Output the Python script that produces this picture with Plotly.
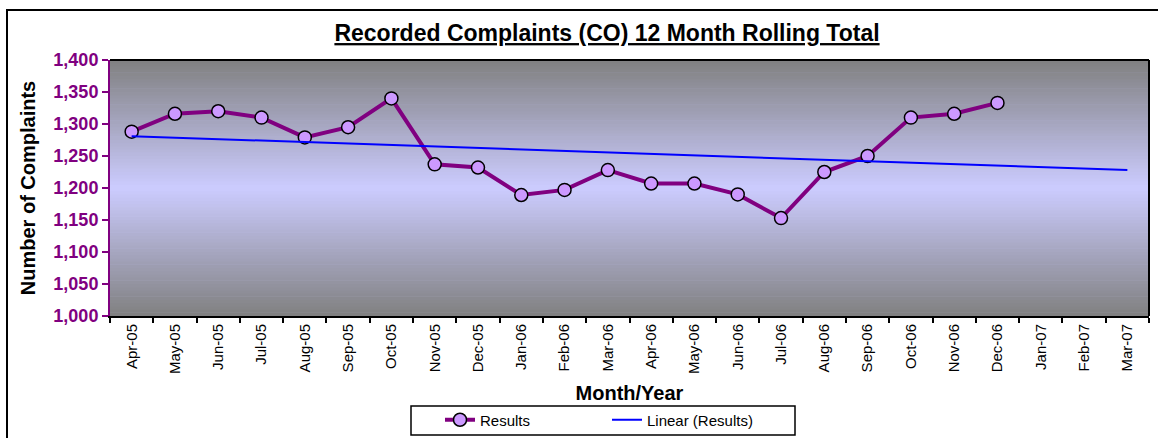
import plotly.graph_objects as go

# data
months = ["Apr-05", "May-05", "Jun-05", "Jul-05", "Aug-05", "Sep-05", "Oct-05", "Nov-05",
          "Dec-05", "Jan-06", "Feb-06", "Mar-06", "Apr-06", "May-06", "Jun-06", "Jul-06",
          "Aug-06", "Sep-06", "Oct-06", "Nov-06", "Dec-06", "Jan-07", "Feb-07", "Mar-07"]
results = [1288, 1316, 1320, 1310, 1279, 1295, 1340, 1237, 1232, 1189, 1197, 1228,
           1207, 1207, 1190, 1153, 1225, 1250, 1310, 1316, 1333]
trend_months = ["Apr-05", "Mar-07"]
trend_values = [1281, 1228]

W, H = 1158, 438
L, R, T, B = 110, 9, 60, 122
PW, PH = W - L - R, H - T - B

def px_x(p):
    return (p - L) / PW

def px_y(p):
    return (H - B - p) / PH

FONT = "Liberation Sans, Arial"

fig = go.Figure()

fig.add_trace(go.Scatter(
    x=months[:len(results)], y=results, mode="lines+markers", name="Results",
    line=dict(color="#800080", width=4),
    marker=dict(symbol="circle", size=13, color="#CC99FF",
                line=dict(color="black", width=1.5)),
))
fig.add_trace(go.Scatter(
    x=trend_months, y=trend_values, mode="lines", name="Linear (Results)",
    line=dict(color="#0000FF", width=2),
))

# gradient plot background: grey -> lavender -> grey
shapes = []
n = 80
top = (128, 128, 128)
mid = (204, 204, 255)
for i in range(n):
    f = (i + 0.5) / n
    t = 1 - abs(f - 0.5) * 2
    c = tuple(int(round(top[k] + (mid[k] - top[k]) * t)) for k in range(3))
    shapes.append(dict(type="rect", xref="x domain", yref="y domain",
                       x0=0, x1=1, y0=i / n, y1=(i + 1) / n + 0.002,
                       fillcolor="rgb(%d,%d,%d)" % c, line=dict(width=0),
                       layer="below"))
# black top / right edges of the plot area
shapes.append(dict(type="line", xref="x domain", yref="y domain", x0=0, x1=1, y0=1, y1=1,
                   line=dict(color="black", width=2)))
shapes.append(dict(type="line", xref="x domain", yref="y domain", x0=1, x1=1, y0=0, y1=1,
                   line=dict(color="black", width=2)))
# outer chart frame
shapes.append(dict(type="rect", xref="paper", yref="paper",
                   x0=px_x(7), x1=px_x(1170), y0=px_y(450), y1=px_y(10),
                   line=dict(color="black", width=2), fillcolor="rgba(0,0,0,0)"))
# legend frame
shapes.append(dict(type="rect", xref="paper", yref="paper",
                   x0=px_x(411), x1=px_x(795), y0=px_y(435), y1=px_y(406),
                   line=dict(color="black", width=1.5), fillcolor="white"))

fig.update_layout(
    width=W, height=H,
    margin=dict(l=L, r=R, t=T, b=B, autoexpand=False),
    paper_bgcolor="white", plot_bgcolor="#CCCCFF",
    font=dict(family=FONT, color="black"),
    shapes=shapes,
    title=dict(text="<b><u>Recorded Complaints (CO) 12 Month Rolling Total</u></b>",
               x=607 / W, xanchor="center", y=1 - 33 / H, yanchor="middle",
               font=dict(size=23, color="black")),
    xaxis=dict(
        type="category", categoryorder="array", categoryarray=months,
        tickmode="array", tickvals=months, ticktext=months,
        range=[-0.5, len(months) - 0.5], automargin=False,
        tickangle=-90, tickfont=dict(size=15, color="black"),
        ticks="outside", tickson="boundaries", ticklen=5, tickcolor="black", tickwidth=1.5,
        showline=True, linecolor="black", linewidth=2,
        showgrid=False, zeroline=False,
        title=dict(text="<b>Month/Year</b>", font=dict(size=20), standoff=13),
    ),
    yaxis=dict(
        range=[1000, 1400], dtick=50, tickformat=",", automargin=False,
        tickprefix="<b>", ticksuffix="</b>",
        tickfont=dict(size=18, color="#800080", family=FONT),
        ticks="outside", ticklen=6, tickcolor="#800080", tickwidth=2,
        showline=True, linecolor="#800080", linewidth=2,
        showgrid=False, zeroline=False,
        title=dict(text="<b>Number of Complaints</b>", font=dict(size=20), standoff=12),
    ),
    legend=dict(
        orientation="h", xref="container", yref="container",
        x=440 / W, xanchor="left", y=1 - 420 / H, yanchor="middle",
        borderwidth=0, bgcolor="rgba(0,0,0,0)",
        font=dict(size=15, color="black"), entrywidth=122,
    ),
    showlegend=True,
)

fig.write_html("out.html", config={"displayModeBar": False},
               post_script="document.body.style.margin='0';")
